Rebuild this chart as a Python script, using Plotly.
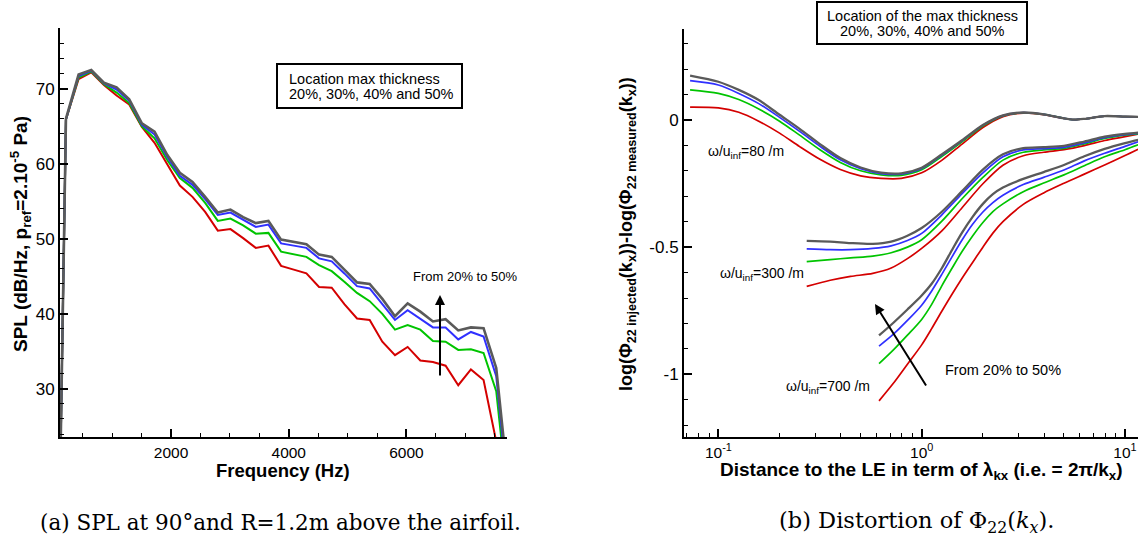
import plotly.graph_objects as go

# ---------------- Left panel data: SPL spectra ----------------
freq_hz = [120, 215, 430, 645, 860, 1075, 1290, 1505, 1720, 1935, 2150, 2365, 2580, 2795,
           3010, 3225, 3440, 3655, 3870, 4085, 4300, 4515, 4730, 4945, 5160, 5375, 5590,
           5805, 6020, 6235, 6450, 6665, 6880, 7095, 7310, 7525, 7740]
spl_20 = [20, 65.9, 71.3, 72.2, 70.5, 69.1, 67.9, 64.9, 62.8, 59.9, 57.1, 55.6, 53.6, 51.1,
          51.3, 50.1, 48.8, 49.1, 46.4, 45.9, 45.4, 43.6, 43.5, 41.3, 39.4, 39.2, 36.3,
          34.5, 35.6, 33.8, 33.6, 33.1, 30.5, 32.6, 31.2, 23.0, 10.0]
spl_30 = [20, 65.9, 71.5, 72.3, 70.6, 69.5, 68.1, 65.0, 63.4, 60.5, 58.1, 56.8, 54.8, 52.4,
          52.7, 51.8, 50.7, 50.8, 48.3, 47.9, 47.6, 46.5, 45.7, 44.3, 42.8, 41.7, 40.0,
          37.9, 38.5, 37.9, 36.4, 36.3, 35.2, 35.3, 34.8, 29.7, 14.0]
spl_40 = [20, 65.9, 71.7, 72.4, 70.7, 69.9, 68.4, 65.2, 63.9, 60.9, 58.4, 57.2, 55.3, 53.2,
          53.5, 52.5, 51.6, 51.9, 49.4, 49.1, 48.8, 47.4, 47.0, 45.4, 43.7, 43.4, 41.3,
          39.2, 40.5, 39.4, 38.2, 38.2, 36.6, 37.6, 37.0, 31.7, 15.2]
spl_50 = [20, 66.0, 71.9, 72.5, 70.8, 70.2, 68.6, 65.4, 64.3, 61.2, 58.8, 57.6, 55.6, 53.5,
          53.9, 52.9, 52.1, 52.4, 49.9, 49.6, 49.3, 47.9, 47.6, 45.9, 44.2, 44.0, 42.0,
          39.7, 41.4, 40.3, 39.0, 39.3, 37.8, 38.2, 38.1, 32.8, 16.6]

spl_xticks = [2000, 4000, 6000]
spl_yticks = [30, 40, 50, 60, 70]

# ---------------- Right panel data: distortion curves ----------------
lam_80 = [0.0726, 0.1, 0.126, 0.158, 0.2, 0.251, 0.316, 0.398, 0.501, 0.631, 0.794, 1.0,
          1.26, 1.58, 2.0, 2.51, 3.16, 3.98, 5.01, 5.62, 6.31, 7.94, 10.0, 11.6]
d80_20 = [0.050, 0.047, 0.030, -0.005, -0.052, -0.105, -0.155, -0.195, -0.220, -0.230, -0.230,
          -0.208, -0.158, -0.095, -0.030, 0.013, 0.027, 0.021, 0.006, 0.001, 0.004, 0.015, 0.013, 0.012]
d80_30 = [0.118, 0.104, 0.080, 0.043, -0.005, -0.060, -0.117, -0.167, -0.200, -0.216, -0.218,
          -0.196, -0.143, -0.086, -0.024, 0.016, 0.028, 0.022, 0.006, 0.001, 0.004, 0.015, 0.013, 0.012]
d80_40 = [0.154, 0.137, 0.104, 0.064, 0.010, -0.045, -0.104, -0.157, -0.192, -0.211, -0.213,
          -0.191, -0.138, -0.082, -0.021, 0.017, 0.029, 0.022, 0.006, 0.001, 0.004, 0.015, 0.013, 0.012]
d80_50 = [0.174, 0.150, 0.118, 0.078, 0.020, -0.035, -0.095, -0.150, -0.187, -0.207, -0.210,
          -0.188, -0.135, -0.080, -0.020, 0.018, 0.029, 0.022, 0.006, 0.001, 0.004, 0.015, 0.013, 0.012]

lam_300 = [0.272, 0.355, 0.447, 0.575, 0.708, 0.851, 1.0, 1.26, 1.58, 2.0, 2.51, 3.16, 3.98,
           5.01, 6.31, 7.94, 10.0, 11.6]
d300_20 = [-0.654, -0.630, -0.615, -0.603, -0.582, -0.545, -0.505, -0.435, -0.345, -0.251, -0.178,
           -0.141, -0.127, -0.117, -0.101, -0.081, -0.066, -0.056]
d300_30 = [-0.557, -0.549, -0.542, -0.535, -0.522, -0.500, -0.471, -0.397, -0.310, -0.226, -0.158,
           -0.127, -0.118, -0.112, -0.094, -0.073, -0.060, -0.055]
d300_40 = [-0.507, -0.510, -0.510, -0.505, -0.495, -0.474, -0.446, -0.372, -0.290, -0.208, -0.145,
           -0.118, -0.113, -0.108, -0.090, -0.070, -0.058, -0.053]
d300_50 = [-0.475, -0.478, -0.484, -0.487, -0.478, -0.455, -0.425, -0.360, -0.280, -0.195, -0.135,
           -0.111, -0.107, -0.102, -0.085, -0.066, -0.055, -0.050]

lam_700 = [0.617, 0.724, 0.851, 1.0, 1.12, 1.26, 1.41, 1.58, 1.78, 2.0, 2.24, 2.51, 3.16, 3.98,
           5.01, 6.31, 7.94, 10.0, 11.6]
d700_20 = [-1.104, -1.036, -0.960, -0.884, -0.820, -0.750, -0.685, -0.622, -0.560, -0.500, -0.445,
           -0.400, -0.332, -0.287, -0.249, -0.213, -0.177, -0.140, -0.115]
d700_30 = [-0.958, -0.905, -0.846, -0.784, -0.725, -0.650, -0.583, -0.517, -0.456, -0.403, -0.360,
           -0.330, -0.282, -0.248, -0.216, -0.180, -0.145, -0.117, -0.098]
d700_40 = [-0.889, -0.843, -0.788, -0.728, -0.672, -0.605, -0.538, -0.472, -0.410, -0.362, -0.325,
           -0.296, -0.254, -0.226, -0.197, -0.161, -0.131, -0.104, -0.086]
d700_50 = [-0.847, -0.798, -0.745, -0.690, -0.644, -0.581, -0.511, -0.443, -0.381, -0.330, -0.292,
           -0.266, -0.232, -0.205, -0.177, -0.143, -0.114, -0.091, -0.078]

dist_yticks = [-1, -0.5, 0]
dist_yticktext = ["-1", "-0.5", "0"]
dist_xticks = [0.1, 1, 10]
dist_xticktext = ["10<sup>-1</sup>", "10<sup>0</sup>", "10<sup>1</sup>"]

# ---------------- Styling ----------------
W, H = 1138, 546
RED, GREEN, BLUE, GRAY = "#d40000", "#00c400", "#3030ff", "#5a5a5a"
SANS = "Liberation Sans, Arial, sans-serif"
SERIF = "DejaVu Serif, Liberation Serif, serif"


def fx(p):
    return p / W


def fy(p):
    return 1 - p / H


fig = go.Figure()

for ys, col, wd in [(spl_20, RED, 2), (spl_30, GREEN, 2), (spl_40, BLUE, 2), (spl_50, GRAY, 2.6)]:
    fig.add_trace(go.Scatter(x=freq_hz, y=ys, mode="lines", line=dict(color=col, width=wd),
                             xaxis="x", yaxis="y", showlegend=False, hoverinfo="skip"))

groups = [(lam_80, [d80_20, d80_30, d80_40, d80_50]),
          (lam_300, [d300_20, d300_30, d300_40, d300_50]),
          (lam_700, [d700_20, d700_30, d700_40, d700_50])]
for lam, sets in groups:
    for ys, col, wd in zip(sets, [RED, GREEN, BLUE, GRAY], [1.7, 1.7, 1.7, 2.3]):
        fig.add_trace(go.Scatter(x=lam, y=ys, mode="lines",
                                 line=dict(color=col, width=wd, shape="spline", smoothing=0.8),
                                 xaxis="x2", yaxis="y2", showlegend=False, hoverinfo="skip"))

common = dict(showline=True, linecolor="black", linewidth=2, ticks="inside", tickcolor="black",
              tickwidth=2, ticklen=8, showgrid=False, zeroline=False, automargin=False,
              mirror=False)
xfont = dict(family=SANS, size=15.5, color="black")
yfont = dict(family=SANS, size=17, color="black")
minor_style = dict(ticks="inside", ticklen=4, tickwidth=1, tickcolor="black")

fig.update_layout(
    width=W, height=H, template="none",
    margin=dict(l=0, r=0, t=0, b=0),
    paper_bgcolor="white", plot_bgcolor="white",
    xaxis=dict(domain=[fx(60), fx(507)], range=[114, 7708], anchor="y",
               tickmode="array", tickvals=spl_xticks, tickfont=xfont,
               minor=dict(tickmode="array", tickvals=[500 * i for i in range(1, 16)], **minor_style),
               **common),
    yaxis=dict(domain=[fy(437), fy(28)], range=[23.6, 78.1], anchor="x",
               tickmode="array", tickvals=spl_yticks, tickfont=yfont,
               minor=dict(tickmode="array", tickvals=list(range(24, 79, 2)), **minor_style),
               **common),
    xaxis2=dict(domain=[fx(684), 1.0], type="log", range=[-1.169, 1.064], anchor="y2",
                tickmode="array", tickvals=dist_xticks, ticktext=dist_xticktext, tickfont=xfont,
                minor=dict(tickmode="array",
                           tickvals=[0.07, 0.08, 0.09, 0.2, 0.3, 0.4, 0.5, 0.6, 0.7, 0.8, 0.9,
                                     2, 3, 4, 5, 6, 7, 8, 9], **minor_style),
                **common),
    yaxis2=dict(domain=[fy(437), fy(29.3)], range=[-1.246, 0.356], anchor="x2",
                tickmode="array", tickvals=dist_yticks, ticktext=dist_yticktext, tickfont=yfont,
                minor=dict(tickmode="array",
                           tickvals=[-1.2, -1.1, -0.9, -0.8, -0.7, -0.6, -0.4, -0.3, -0.2, -0.1,
                                     0.1, 0.2, 0.3], **minor_style),
                **common),
)

ann = []


def text(x, y, s, size, xanchor="center", bold=False, family=SANS, angle=0, yanchor="middle"):
    if bold:
        s = "<b>" + s + "</b>"
    ann.append(dict(x=fx(x), y=fy(y), xref="paper", yref="paper", text=s, showarrow=False,
                    xanchor=xanchor, yanchor=yanchor, textangle=angle,
                    font=dict(family=family, size=size, color="black")))


# axis titles
text(283, 470, "Frequency (Hz)", 18.5, bold=True)
text(20, 234, "SPL (dB/Hz, p<sub>ref</sub>=2.10<sup>-5</sup> Pa)", 19, bold=True, angle=-90)
text(921, 471, "Distance to the LE in term of λ<sub>kx</sub> (i.e. = 2π/k<sub>x</sub>)", 19, bold=True)
text(627, 234, "log(Φ<sub>22 injected</sub>(k<sub>x</sub>))-log(Φ<sub>22 measured</sub>(k<sub>x</sub>))",
     18, bold=True, angle=-90)

# legend boxes
fig.add_shape(type="rect", xref="paper", yref="paper", x0=fx(277), x1=fx(462), y0=fy(108), y1=fy(64),
              line=dict(color="black", width=2), fillcolor="white")
text(287, 79, "Location max thickness", 14.5, xanchor="left")
text(287, 94, "20%, 30%, 40% and 50%", 14.5, xanchor="left")
fig.add_shape(type="rect", xref="paper", yref="paper", x0=fx(817), x1=fx(1027), y0=fy(44), y1=fy(2),
              line=dict(color="black", width=2), fillcolor="white")
text(922, 16, "Location of the max thickness", 14.5)
text(922, 31, "20%, 30%, 40% and 50%", 14.5)

# notes
text(465, 276, "From 20% to 50%", 13)
text(1003, 370, "From 20% to 50%", 14.5)
text(706, 152, "ω/u<sub>inf</sub>=80 /m", 14, xanchor="left")
text(718, 274, "ω/u<sub>inf</sub>=300 /m", 14, xanchor="left")
text(784, 387, "ω/u<sub>inf</sub>=700 /m", 14, xanchor="left")

# arrows
ann.append(dict(x=fx(440), y=fy(295), xref="paper", yref="paper", text="", showarrow=True,
                ax=0, ay=82, arrowhead=2, arrowsize=1, arrowwidth=2, arrowcolor="black"))
ann.append(dict(x=fx(875), y=fy(304), xref="paper", yref="paper", text="", showarrow=True,
                ax=52, ay=83, arrowhead=2, arrowsize=1, arrowwidth=2, arrowcolor="black"))

# captions
text(280, 522, "(a) SPL at 90°and R=1.2m above the airfoil.", 21.5, family=SERIF)
text(916, 522, "(b) Distortion of Φ<sub>22</sub>(<i>k<sub>x</sub></i>).", 22.5, family=SERIF)

fig.update_layout(annotations=ann)
fig.write_html("out.html", config={"displayModeBar": False, "staticPlot": True})

# remove the default page margin so the figure sits at the window's top-left corner
with open("out.html", "r", encoding="utf-8") as f:
    html = f.read()
html = html.replace("<head>", "<head><style>html,body{margin:0;padding:0;overflow:hidden;}</style>", 1)
with open("out.html", "w", encoding="utf-8") as f:
    f.write(html)
